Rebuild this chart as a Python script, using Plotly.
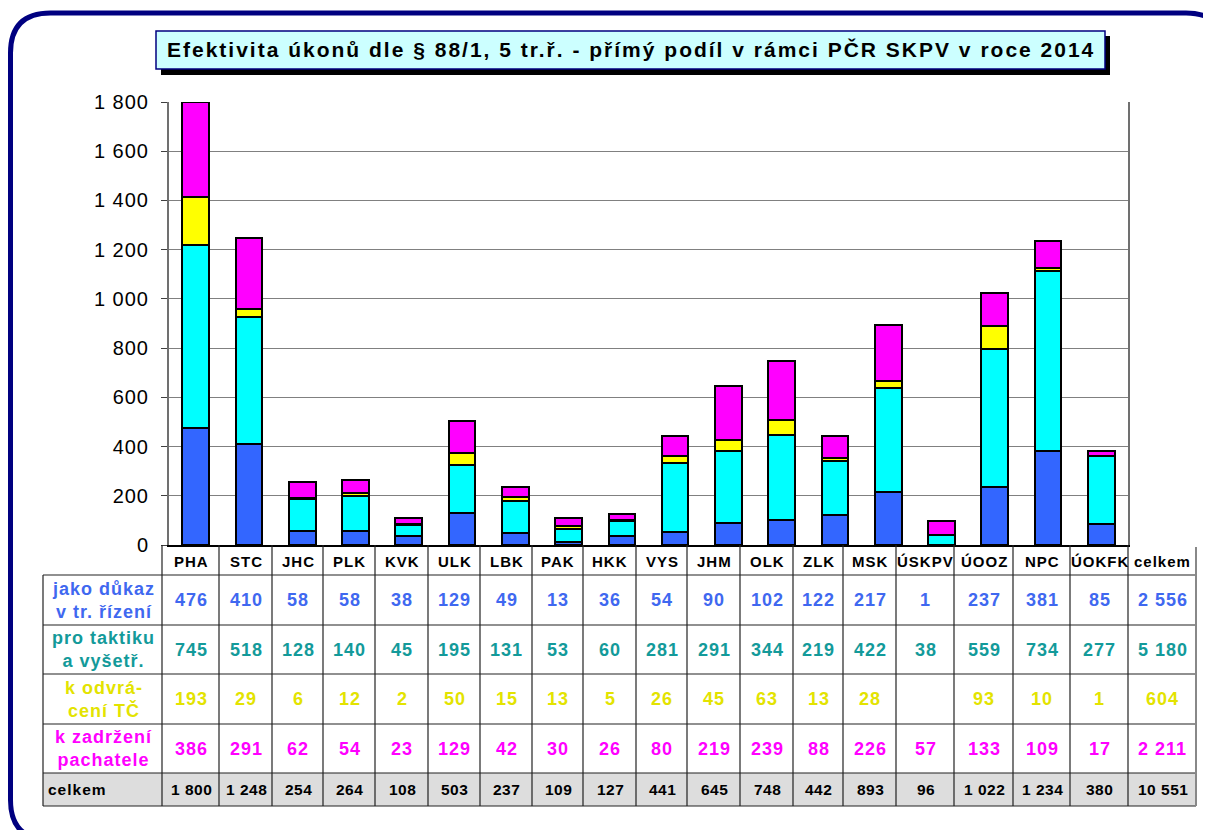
import plotly.graph_objects as go

# ---------------- data ----------------
categories = ["PHA", "STC", "JHC", "PLK", "KVK", "ULK", "LBK", "PAK", "HKK", "VYS",
              "JHM", "OLK", "ZLK", "MSK", "ÚSKPV", "ÚOOZ", "NPC", "ÚOKFK"]
dukaz = [476, 410, 58, 58, 38, 129, 49, 13, 36, 54, 90, 102, 122, 217, 1, 237, 381, 85]
taktika = [745, 518, 128, 140, 45, 195, 131, 53, 60, 281, 291, 344, 219, 422, 38, 559, 734, 277]
odvraceni = [193, 29, 6, 12, 2, 50, 15, 13, 5, 26, 45, 63, 13, 28, None, 93, 10, 1]
zadrzeni = [386, 291, 62, 54, 23, 129, 42, 30, 26, 80, 219, 239, 88, 226, 57, 133, 109, 17]
celkem = [1800, 1248, 254, 264, 108, 503, 237, 109, 127, 441, 645, 748, 442, 893, 96, 1022, 1234, 380]
series_names = ["jako důkaz<br>v tr. řízení", "pro taktiku<br>a vyšetř.", "k odvrá-<br>cení TČ", "k zadržení<br>pachatele"]
y_ticks = [0, 200, 400, 600, 800, 1000, 1200, 1400, 1600, 1800]
title_text = "Efektivita úkonů dle § 88/1, 5 tr.ř. - přímý podíl v rámci PČR SKPV v roce 2014"

# ---------------- style ----------------
FONT = "Liberation Sans, Arial, sans-serif"
bar_colors = ["#3366FF", "#00FFFF", "#FFFF00", "#FF00FF"]
text_colors = ["#3F68F0", "#139A9A", "#E3E300", "#FF00FF"]

OFF = 8  # page body margin offset
W, H = 1211 - OFF, 830 - OFF  # figure fits the window without overflow
# plot area in screen pixels
SL, SR, ST, SB = 169, 1128, 102, 545
PL, PR, PT, PB = SL - OFF, SR - OFF, ST - OFF, SB - OFF


def fx(px):
    return (px - SL) / (SR - SL)


def fy(py):
    return (SB - py) / (SB - ST)


def fmt(v):
    if v is None:
        return ""
    return f"{v:,}".replace(",", " ")


def sp(t, ls):
    return f"<span style='letter-spacing:{ls}px'>{t}</span>"


fig = go.Figure()
for vals, name, col in zip([dukaz, taktika, odvraceni, zadrzeni], series_names, bar_colors):
    fig.add_trace(go.Bar(
        x=categories, y=[v if v is not None else 0 for v in vals], name=name,
        marker=dict(color=col, line=dict(color="black", width=2)),
        width=0.5, showlegend=False,
    ))

shapes = []
annotations = []

# outer rounded frame (screen px)
x0, y0, x1, y1, r = 10.5, 13, 1226, 840, 40
pts = [("M", x0 + r, y0), ("L", x1 - r, y0), ("Q", x1, y0, x1, y0 + r), ("L", x1, y1 - r),
       ("Q", x1, y1, x1 - r, y1), ("L", x0 + r, y1), ("Q", x0, y1, x0, y1 - r), ("L", x0, y0 + r),
       ("Q", x0, y0, x0 + r, y0)]
segs = []
for p in pts:
    cmd = p[0]
    coords = p[1:]
    s = cmd
    for i in range(0, len(coords), 2):
        s += f" {fx(coords[i]):.6f},{fy(coords[i+1]):.6f}"
    segs.append(s)
shapes.append(dict(type="path", xref="paper", yref="paper", path=" ".join(segs) + " Z",
                   line=dict(color="#000080", width=5)))

# title box with shadow
shapes.append(dict(type="rect", xref="paper", yref="paper",
                   x0=fx(161), x1=fx(1110), y0=fy(36), y1=fy(75),
                   fillcolor="black", line=dict(width=0)))
shapes.append(dict(type="rect", xref="paper", yref="paper",
                   x0=fx(156), x1=fx(1105), y0=fy(31), y1=fy(69),
                   fillcolor="#CCFFFF", line=dict(color="#000080", width=1.5)))
annotations.append(dict(xref="paper", yref="paper", x=fx(631), y=fy(50), text=f"<b>{sp(title_text, 2)}</b>",
                        showarrow=False, font=dict(family=FONT, size=21, color="black"),
                        xanchor="center", yanchor="middle"))

# ---------------- data table ----------------
col_edges = [162, 219, 272, 323, 375, 428, 480, 532, 583, 636, 687, 740, 793,
             843, 896, 954, 1013, 1070, 1128, 1196]
row_edges = [545, 575, 625, 674, 724, 773, 806]
label_left = 43

shapes.append(dict(type="rect", xref="paper", yref="paper",
                   x0=fx(label_left), x1=fx(col_edges[-1]), y0=fy(row_edges[5]), y1=fy(row_edges[6]),
                   fillcolor="#DDDDDD", line=dict(width=0), layer="below"))
for ry in row_edges[1:]:
    shapes.append(dict(type="line", xref="paper", yref="paper",
                       x0=fx(label_left), x1=fx(col_edges[-1]), y0=fy(ry), y1=fy(ry),
                       line=dict(color="#222222", width=1.2)))
for i, cx in enumerate(col_edges):
    last = i == len(col_edges) - 1
    shapes.append(dict(type="line", xref="paper", yref="paper",
                       x0=fx(cx), x1=fx(cx), y0=fy(row_edges[0] + (2 if last else 0)), y1=fy(row_edges[-1]),
                       line=dict(color="#888888" if last else "#222222", width=2 if last else 1.2)))
shapes.append(dict(type="line", xref="paper", yref="paper",
                   x0=fx(label_left), x1=fx(label_left), y0=fy(row_edges[1]), y1=fy(row_edges[-1]),
                   line=dict(color="#222222", width=1.2)))

header = categories + ["celkem"]
centers = [(col_edges[i] + col_edges[i + 1]) / 2 for i in range(len(header))]
for c, t in zip(centers, header):
    annotations.append(dict(xref="paper", yref="paper", x=fx(c + 0.5), y=fy((row_edges[0] + row_edges[1]) / 2 + 1),
                            text=f"<b>{sp(t, 1)}</b>", showarrow=False,
                            font=dict(family=FONT, size=15, color="black"),
                            xanchor="center", yanchor="middle"))

rows = [dukaz, taktika, odvraceni, zadrzeni]
for ri, (vals, name, tc) in enumerate(zip(rows, series_names, text_colors)):
    yc = (row_edges[ri + 1] + row_edges[ri + 2]) / 2
    lines = name.split("<br>")
    annotations.append(dict(xref="paper", yref="paper", x=fx((label_left + col_edges[0]) / 2 + 1), y=fy(yc),
                            text="<br>".join(f"<b>{sp(l, 1)}</b>" for l in lines), showarrow=False,
                            font=dict(family=FONT, size=18, color=tc),
                            xanchor="center", yanchor="middle", align="center"))
    total = sum(v for v in vals if v is not None)
    for c, v in zip(centers, list(vals) + [total]):
        annotations.append(dict(xref="paper", yref="paper", x=fx(c + 0.5), y=fy(yc),
                                text=f"<b>{sp(fmt(v), 1)}</b>", showarrow=False,
                                font=dict(family=FONT, size=18, color=tc),
                                xanchor="center", yanchor="middle"))

yc = (row_edges[5] + row_edges[6]) / 2
annotations.append(dict(xref="paper", yref="paper", x=fx(label_left + 3), y=fy(yc),
                        text=f"<b>{sp('celkem', 1)}</b>", showarrow=False,
                        font=dict(family=FONT, size=15.5, color="black"),
                        xanchor="left", yanchor="middle"))
for c, v in zip(centers, celkem + [sum(celkem)]):
    annotations.append(dict(xref="paper", yref="paper", x=fx(c + 0.5), y=fy(yc),
                            text=f"<b>{sp(fmt(v), 0.5)}</b>", showarrow=False,
                            font=dict(family=FONT, size=15.5, color="black"),
                            xanchor="center", yanchor="middle"))

fig.update_layout(
    width=W, height=H,
    margin=dict(l=PL, r=W - PR, t=PT, b=H - PB, autoexpand=False),
    paper_bgcolor="white", plot_bgcolor="white",
    barmode="stack", bargap=0.5,
    font=dict(family=FONT),
    shapes=shapes, annotations=annotations,
    xaxis=dict(type="category", range=[-0.5, len(categories) - 0.5], showticklabels=False,
               showgrid=False, showline=True, linecolor="black", linewidth=1.5, ticks="",
               fixedrange=True),
    yaxis=dict(range=[0, 1800], tickvals=y_ticks, ticktext=[sp(fmt(v), 1) for v in y_ticks],
               tickfont=dict(family=FONT, size=20, color="black"),
               showgrid=True, gridcolor="#808080", gridwidth=1.2,
               showline=True, linecolor="#707070", linewidth=2, mirror=True,
               ticks="outside", ticklen=6, tickcolor="#404040", ticklabelstandoff=8,
               zeroline=False, fixedrange=True),
)

fig.write_html("out.html")
